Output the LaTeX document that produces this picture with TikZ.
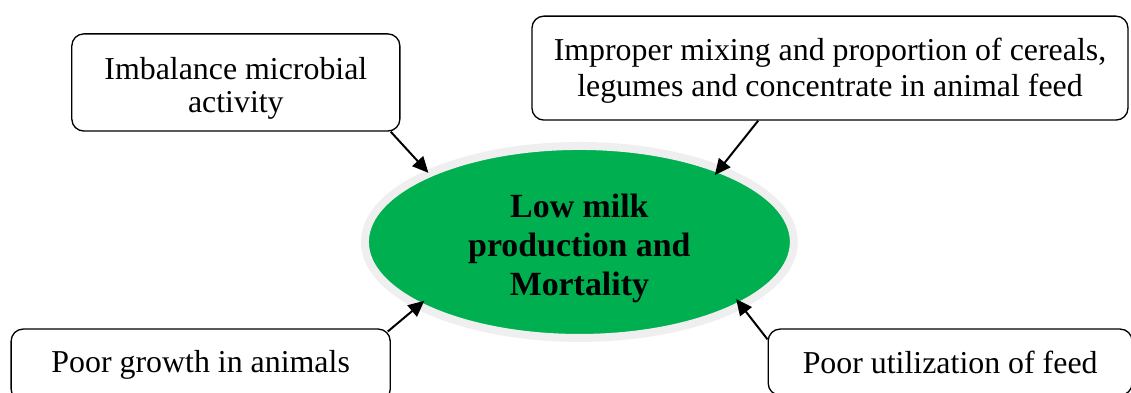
\documentclass[tikz,border=0pt]{standalone}
\usepackage{fontspec}
\setmainfont{Liberation Serif}
\usetikzlibrary{shapes.geometric,arrows.meta}
\definecolor{effgreen}{HTML}{00B050}
\definecolor{ringgray}{HTML}{EFEFEF}
\newcommand{\lowered}[2]{\raisebox{-#1}[\height][\depth]{\begin{tabular}{@{}c@{}}#2\end{tabular}}}
\tikzset{
  cause/.style={draw,line width=1pt,rounded corners=9pt,align=center,inner sep=0pt,font=\fontsize{24}{26.5}\selectfont},
  arr/.style={-{Triangle[length=12pt,width=11pt]},line width=1.5pt}
}
\begin{document}
\begin{tikzpicture}[x=1cm,y=1cm]
\useasboundingbox (0,0) rectangle (29.925,10.372);
\node[ellipse,fill=effgreen,draw=ringgray,line width=6pt,minimum width=11.35cm,minimum height=5.08cm,inner sep=0pt,font=\bfseries\fontsize{25.5}{29.5}\selectfont] (low) at (15.33,3.97) {\lowered{0.17cm}{Low milk\\production and\\Mortality}};
\node[cause,minimum width=8.68cm,minimum height=2.57cm,font=\fontsize{24}{24.8}\selectfont] (imb) at (6.24,8.19) {\lowered{0.19cm}{Imbalance microbial\\activity}};
\node[cause,minimum width=15.77cm,minimum height=2.75cm,font=\fontsize{24}{27.5}\selectfont] (mix) at (21.96,8.57) {\lowered{0.08cm}{Improper mixing and proportion of cereals,\\legumes and concentrate in animal feed}};
\node[cause,minimum width=10.03cm,minimum height=1.91cm] (grow) at (5.31,0.71) {Poor growth in animals};
\node[cause,minimum width=9.63cm,minimum height=1.75cm] (util) at (25.14,0.79) {Poor utilization of feed};
\draw[arr,shorten >=-0.08cm] ([xshift=-0.26cm]imb.south east) -- (low.155);
\draw[arr,shorten >=-0.3cm] ([xshift=-1.9cm]mix.south) -- (low.28);
\draw[arr,shorten >=-0.3cm] ([shift={(-0.08,-0.08)}]grow.north east) -- (low.202);
\draw[arr,shorten >=-0.3cm] ([yshift=-0.29cm]util.north west) -- (low.-22);
\end{tikzpicture}
\end{document}
